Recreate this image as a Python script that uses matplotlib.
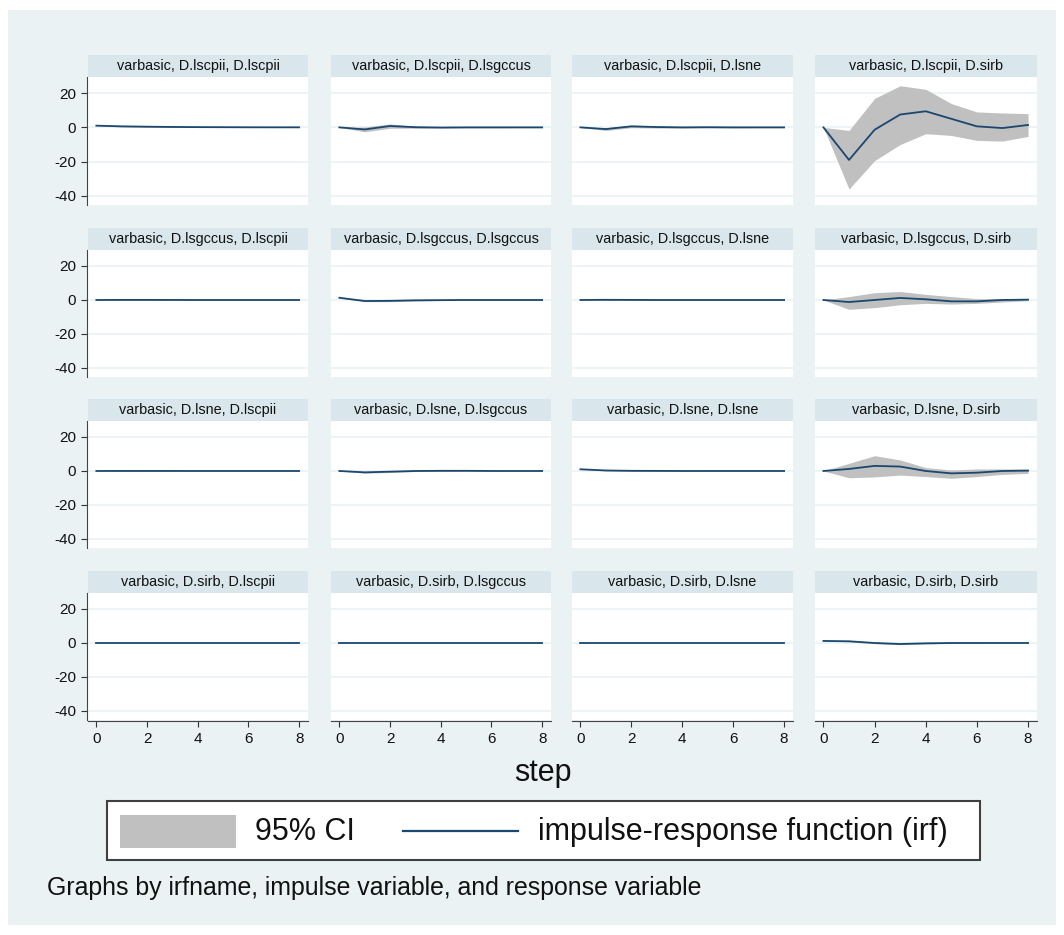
import matplotlib
matplotlib.use("Agg")
import matplotlib.pyplot as plt
from matplotlib.patches import Rectangle
import numpy as np

plt.rcParams['font.family'] = ['Liberation Sans', 'DejaVu Sans']

# ---------------- data ----------------
steps = [0, 1, 2, 3, 4, 5, 6, 7, 8]
variables = ["D.lscpii", "D.lsgccus", "D.lsne", "D.sirb"]
irfname = "varbasic"
y_ticks = [20, 0, -20, -40]
x_ticks = [0, 2, 4, 6, 8]

# rows = impulse variable, inner lists = response variable (same order as `variables`)
irf_lscpii = [
    [1.0, 0.6, 0.4, 0.25, 0.15, 0.1, 0.05, 0.03, 0.02],
    [0, -1.2, 0.8, 0.1, -0.1, 0, 0, 0, 0],
    [0, -1.0, 0.6, 0.2, 0, 0.1, 0, 0, 0],
    [0, -19.0, -1.4, 7.5, 9.4, 5.0, 0.6, -0.4, 1.4],
]
lo_lscpii = [
    [1.0, 0.3, 0.1, 0.0, -0.05, -0.05, -0.05, -0.05, -0.05],
    [0, -2.6, -0.5, -0.5, -0.4, -0.3, -0.3, -0.2, -0.2],
    [0, -1.8, -0.2, -0.4, -0.4, -0.3, -0.3, -0.2, -0.2],
    [0, -36.0, -19.4, -10.0, -3.7, -4.7, -7.6, -8.0, -5.3],
]
hi_lscpii = [
    [1.0, 0.9, 0.7, 0.5, 0.35, 0.25, 0.15, 0.1, 0.1],
    [0, 0.2, 2.0, 0.7, 0.3, 0.3, 0.2, 0.2, 0.2],
    [0, -0.2, 1.4, 0.8, 0.4, 0.4, 0.3, 0.2, 0.2],
    [0, -1.8, 16.9, 24.3, 22.2, 13.9, 9.0, 8.4, 8.0],
]

irf_lsgccus = [
    [0, 0.05, 0.05, 0.02, 0, 0, 0, 0, 0],
    [1.3, -0.6, -0.5, -0.2, -0.1, 0, 0, 0, 0],
    [0, 0.1, 0.05, 0, 0, 0, 0, 0, 0],
    [0, -1.2, 0.0, 1.2, 0.4, -0.8, -0.8, 0.0, 0.2],
]
lo_lsgccus = [
    [0, -0.1, -0.1, -0.1, -0.1, -0.05, -0.05, -0.05, -0.05],
    [1.3, -1.0, -1.0, -0.6, -0.3, -0.2, -0.2, -0.1, -0.1],
    [0, -0.1, -0.15, -0.15, -0.1, -0.1, -0.05, -0.05, -0.05],
    [0, -5.5, -4.5, -2.8, -2.0, -2.4, -2.0, -1.2, -0.4],
]
hi_lsgccus = [
    [0, 0.2, 0.2, 0.15, 0.1, 0.05, 0.05, 0.05, 0.05],
    [1.3, -0.2, 0.0, 0.2, 0.1, 0.1, 0.1, 0.1, 0.1],
    [0, 0.3, 0.25, 0.15, 0.1, 0.1, 0.05, 0.05, 0.05],
    [0, 2.0, 4.3, 5.0, 3.3, 2.0, 0.8, 0.8, 0.8],
]

irf_lsne = [
    [0, 0.02, 0.02, 0.01, 0, 0, 0, 0, 0],
    [0, -0.8, -0.4, 0, 0.1, 0.1, 0, 0, 0],
    [1.0, 0.3, 0.1, 0.05, 0, 0, 0, 0, 0],
    [0, 1.2, 3.0, 2.6, 0.0, -1.4, -1.0, 0.0, 0.2],
]
lo_lsne = [
    [0, -0.1, -0.1, -0.05, -0.05, -0.05, -0.05, -0.05, -0.05],
    [0, -1.3, -0.9, -0.3, -0.2, -0.1, -0.1, -0.1, -0.1],
    [1.0, 0.1, -0.1, -0.1, -0.1, -0.05, -0.05, -0.05, -0.05],
    [0, -4.0, -3.5, -2.4, -3.3, -4.3, -3.3, -2.0, -1.4],
]
hi_lsne = [
    [0, 0.15, 0.15, 0.1, 0.05, 0.05, 0.05, 0.05, 0.05],
    [0, -0.3, 0.1, 0.3, 0.3, 0.2, 0.2, 0.1, 0.1],
    [1.0, 0.5, 0.3, 0.2, 0.1, 0.05, 0.05, 0.05, 0.05],
    [0, 4.5, 9.0, 6.5, 2.0, 0.6, 1.2, 1.2, 1.2],
]

irf_sirb = [
    [0, 0, 0, 0, 0, 0, 0, 0, 0],
    [0, 0, 0, 0, 0, 0, 0, 0, 0],
    [0, 0, 0, 0, 0, 0, 0, 0, 0],
    [1.2, 1.0, 0.0, -0.6, -0.2, 0, 0, 0, 0],
]
lo_sirb = [
    [0, -0.05, -0.05, -0.05, -0.05, -0.05, -0.05, -0.05, -0.05],
    [0, -0.05, -0.05, -0.05, -0.05, -0.05, -0.05, -0.05, -0.05],
    [0, -0.05, -0.05, -0.05, -0.05, -0.05, -0.05, -0.05, -0.05],
    [1.2, 0.7, -0.4, -1.0, -0.6, -0.3, -0.2, -0.1, -0.1],
]
hi_sirb = [
    [0, 0.05, 0.05, 0.05, 0.05, 0.05, 0.05, 0.05, 0.05],
    [0, 0.05, 0.05, 0.05, 0.05, 0.05, 0.05, 0.05, 0.05],
    [0, 0.05, 0.05, 0.05, 0.05, 0.05, 0.05, 0.05, 0.05],
    [1.2, 1.3, 0.4, -0.2, 0.2, 0.3, 0.2, 0.1, 0.1],
]

irf_all = [irf_lscpii, irf_lsgccus, irf_lsne, irf_sirb]
lo_all = [lo_lscpii, lo_lsgccus, lo_lsne, lo_sirb]
hi_all = [hi_lscpii, hi_lsgccus, hi_lsne, hi_sirb]

# ---------------- styling ----------------
W, H = 1064, 935
BG = "#EAF2F3"
STRIP = "#D9E6EB"
LINE = "#1A476F"
CI = "#C0C0C0"
TXT = "#111111"

fig = plt.figure(figsize=(W / 100, H / 100), dpi=100, facecolor="white")


def rect(x0, y0, x1, y1):
    return [x0 / W, 1 - y1 / H, (x1 - x0) / W, (y1 - y0) / H]


fig.patches.append(Rectangle((8 / W, 1 - 925 / H), (1056 - 8) / W, (925 - 10) / H,
                             transform=fig.transFigure, facecolor=BG, edgecolor="none",
                             zorder=-10))

col_x = [(88, 308), (331, 551), (572, 793), (815, 1037)]
row_y = [(55, 77, 205), (228, 250, 377), (399, 421, 548), (571, 593, 720)]

for i in range(4):
    for j in range(4):
        x0, x1 = col_x[j]
        ys, yt, yb = row_y[i]
        # strip
        fig.patches.append(Rectangle((x0 / W, 1 - yt / H), (x1 - x0) / W, (yt - ys) / H,
                                     transform=fig.transFigure, facecolor=STRIP,
                                     edgecolor="none", zorder=-5))
        fig.text((x0 + x1) / 2 / W, 1 - (ys + yt) / 2 / H,
                 f"{irfname}, {variables[i]}, {variables[j]}",
                 ha="center", va="center", fontsize=10.4, color=TXT, zorder=2)
        ax = fig.add_axes(rect(x0, yt, x1, yb))
        ax.set_zorder(1)
        ax.set_facecolor("white")
        ax.set_xlim(-0.33, 8.35)
        ax.set_ylim(-45.3, 29.4)
        for yv in y_ticks:
            ax.axhline(yv, color=BG, lw=1.2, zorder=1)
        ax.fill_between(steps, lo_all[i][j], hi_all[i][j], color=CI, lw=0, zorder=2)
        ax.plot(steps, irf_all[i][j], color=LINE, lw=1.3, zorder=3)
        for s in ax.spines.values():
            s.set_visible(False)
        ax.set_yticks(y_ticks)
        ax.set_xticks(x_ticks)
        ax.tick_params(colors="#333333", labelcolor=TXT, labelsize=11, length=4, width=0.8)
        if j == 0:
            ax.spines["left"].set_visible(True)
            ax.spines["left"].set_color("#444444")
            ax.spines["left"].set_position(("outward", 1))
            ax.set_yticklabels([str(v) for v in y_ticks])
        else:
            ax.tick_params(axis="y", left=False, labelleft=False)
        if i == 3:
            ax.spines["bottom"].set_visible(True)
            ax.spines["bottom"].set_color("#444444")
            ax.spines["bottom"].set_position(("outward", 1))
            ax.set_xticklabels([str(v) for v in x_ticks])
        else:
            ax.tick_params(axis="x", bottom=False, labelbottom=False)

# x axis title
fig.text(543 / W, 1 - 773 / H, "step", ha="center", va="center", fontsize=22, color=TXT)

# legend box
fig.patches.append(Rectangle((107 / W, 1 - 860 / H), (980 - 107) / W, (860 - 801) / H,
                             transform=fig.transFigure, facecolor="white",
                             edgecolor="#404040", lw=1.5, zorder=1))
fig.patches.append(Rectangle((120 / W, 1 - 848 / H), (236 - 120) / W, (848 - 815) / H,
                             transform=fig.transFigure, facecolor=CI,
                             edgecolor="none", zorder=2))
fig.text(255 / W, 1 - 832 / H, "95% CI", ha="left", va="center", fontsize=22, color=TXT)
fig.lines.append(plt.Line2D([403 / W, 518 / W], [1 - 831 / H, 1 - 831 / H],
                            transform=fig.transFigure, color=LINE, lw=1.6, zorder=2))
fig.text(538 / W, 1 - 832 / H, "impulse-response function (irf)", ha="left", va="center",
         fontsize=22, color=TXT)

fig.text(47 / W, 1 - 888 / H, "Graphs by irfname, impulse variable, and response variable",
         ha="left", va="center", fontsize=17.9, color=TXT)

fig.savefig("out.png", dpi=100, facecolor="white")
